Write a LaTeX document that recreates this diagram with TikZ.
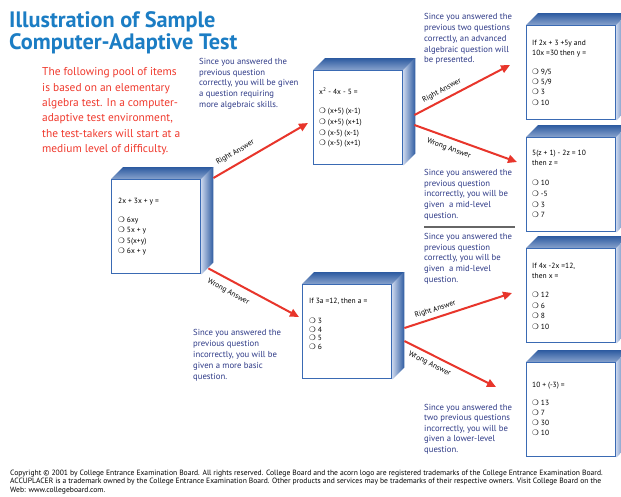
\documentclass[tikz,border=0pt]{standalone}
\usepackage{fontspec}
\setmainfont{PT Sans}
\newfontfamily\dv{DejaVu Sans}
\usetikzlibrary{calc,arrows.meta,backgrounds}
\definecolor{titleblue}{HTML}{1B7DC4}
\definecolor{introred}{HTML}{F03A2E}
\definecolor{navy}{HTML}{2E3A87}
\definecolor{arrowred}{HTML}{E8352B}
\definecolor{boxblue}{HTML}{3A6AB3}
\definecolor{depthdark}{HTML}{2C5AA0}
\definecolor{depthlight}{HTML}{C5D2EA}
\newcommand\opt{{\dv\char"274D}\ }
\newcommand\boxdepth[1]{%
  \shade[top color=depthdark, bottom color=depthlight!60!depthdark] (#1.north west) -- ($(#1.north west)+(12,-12)$) -- ($(#1.north east)+(12,-12)$) -- (#1.north east) -- cycle;
  \shade[left color=depthlight, right color=depthdark] (#1.north east) -- ($(#1.north east)+(12,-12)$) -- ($(#1.south east)+(12,-12)$) -- (#1.south east) -- cycle;}
\begin{document}
\begin{tikzpicture}[x=1pt,y=-1pt,
  qbox/.style={draw=boxblue, line width=1.4pt, fill=white, minimum width=89pt, minimum height=94pt, anchor=north west, inner sep=0pt},
  qtext/.style={anchor=north west, inner sep=0pt, align=left, font=\fontsize{7.5}{10.5}\selectfont},
  note/.style={anchor=north west, inner sep=0pt, align=left, text=navy, font=\fontsize{8.7}{10.7}\selectfont},
  arr/.style={draw=arrowred, line width=2pt, -{Triangle[length=9pt,width=8pt]}},
  lab/.style={font=\fontsize{7.5}{8}\selectfont, sloped, inner sep=1pt}
]
\useasboundingbox (0,0) rectangle (621,496);

% title and intro
\node[anchor=north west, inner sep=0pt, align=left, text=titleblue, font=\fontsize{22.3}{17.5}\selectfont\bfseries] (title) at (9,11.5) {Illustration of Sample\\Computer-Adaptive Test};
\node[anchor=north west, inner sep=0pt, align=left, text=introred, font=\fontsize{11.4}{15.4}\selectfont] (intro) at (42,67.5) {The following pool of items\\is based on an elementary\\algebra test. In a computer-\\adaptive test environment,\\the test-takers will start at a\\medium level of difficulty.};

% boxes
\node[qbox] (b1) at (111,179) {};
\node[qbox] (b2) at (313,70) {};
\node[qbox] (b3) at (526,25) {};
\node[qbox] (b4) at (526,137) {};
\node[qbox] (b5) at (526,248) {};
\node[qbox] (b6) at (526,362) {};
\node[qbox] (ba) at (302,284) {};

\begin{scope}[on background layer]
\fill[white] (0,0) rectangle (621,496);
\foreach \b in {b1,b2,b3,b4,b5,b6,ba} {\boxdepth{\b}}
\end{scope}

% box contents
\node[qtext] (q1) at (118,197.5) {2x + 3x + y =\\[8.7pt]\opt 6xy\\\opt 5x + y\\\opt 5(x+y)\\\opt 6x + y};
\node[qtext, font=\fontsize{7.5}{10.8}\selectfont] (q2) at (319,87.5) {x\textsuperscript{2} - 4x - 5 =\\[8.2pt]\opt (x+5) (x-1)\\\opt (x+5) (x+1)\\\opt (x-5) (x-1)\\\opt (x-5) (x+1)};
\node[qtext, font=\fontsize{7.5}{10.3}\selectfont] (q3) at (532,39.5) {If 2x + 3 +5y and\\10x =30 then y =\\[8.7pt]\opt 9/5\\\opt 5/9\\\opt 3\\\opt 10};
\node[qtext, font=\fontsize{7.5}{10.7}\selectfont] (q4) at (532,149.5) {5(z + 1) - 2z = 10\\then z =\\[9.3pt]\opt 10\\\opt -5\\\opt 3\\\opt 7};
\node[qtext, font=\fontsize{7.5}{10.6}\selectfont] (q5) at (532,262.5) {If 4x -2x =12,\\then x =\\[8.4pt]\opt 12\\\opt 6\\\opt 8\\\opt 10};
\node[qtext, font=\fontsize{7.5}{10.3}\selectfont] (q6) at (532,381.5) {10 + (-3) =\\[7.7pt]\opt 13\\\opt 7\\\opt 30\\\opt 10};
\node[qtext, font=\fontsize{7.5}{8.7}\selectfont] (qa) at (309,298) {If 3a =12, then a =\\[11.3pt]\opt 3\\\opt 4\\\opt 5\\\opt 6};

% explanatory notes
\node[note] (n1) at (199,58) {Since you answered the\\previous question\\correctly, you will be given\\a question requiring\\more algebraic skills.};
\node[note, font=\fontsize{8.7}{10.9}\selectfont] (n2) at (424,13) {Since you answered the\\previous two questions\\correctly, an advanced\\algebraic question will\\be presented.};
\node[note] (n3) at (424,169) {Since you answered the\\previous question\\incorrectly, you will be\\given~ a mid-level\\question.};
\draw[gray!80!black, line width=1.5pt] (424,227) -- (515,227);
\node[note] (n4) at (424,233) {Since you answered the\\previous question\\correctly, you will be\\given~ a mid-level\\question.};
\node[note, font=\fontsize{8.7}{11}\selectfont] (n5) at (193,329) {Since you answered the\\previous question\\incorrectly, you will be\\given a more basic\\question.};
\node[note, font=\fontsize{8.7}{10.5}\selectfont] (n6) at (424,404) {Since you answered the\\two previous questions\\incorrectly, you will be\\given a lower-level\\question.};

% arrows
\draw[arr] ($(b1.north east)+(12,-1)$) -- node[lab, above=5.5pt, pos=0.29] (l1) {Right Answer} ($(b2.north west)+(-5,53)$);
\draw[arr] ($(b1.south east)+(7,-6)$) -- node[lab, below=6pt, pos=0.28] (l2) {Wrong Answer} ($(ba.north west)+(-3,33)$);
\draw[arr] ($(b2.north east)+(11,45)$) -- node[lab, above=3.3pt, pos=0.33] (l3) {Right Answer} ($(b3.north west)+(-16,40)$);
\draw[arr] ($(b2.north east)+(11,55)$) -- node[lab, below=5pt, pos=0.37] (l4) {Wrong Answer} ($(b4.north west)+(-9,25)$);
\draw[arr] ($(ba.north east)+(12,44)$) -- node[lab, above=2.5pt, pos=0.31] (l5) {Right Answer} ($(b5.north west)+(-14,45)$);
\draw[arr] ($(ba.north east)+(12,57)$) -- node[lab, below=3.8pt, pos=0.32] (l6) {Wrong Answer} ($(b6.north west)+(-30,25)$);

% footer
\node[anchor=north west, inner sep=0pt, align=left, font=\fontsize{7.6}{8.6}\selectfont] (foot) at (10,469.5) {Copyright \textcopyright{} 2001 by College Entrance Examination Board. All rights reserved. College Board and the acorn logo are registered trademarks of the College Entrance Examination Board.\\ACCUPLACER is a trademark owned by the College Entrance Examination Board. Other products and services may be trademarks of their respective owners. Visit College Board on the\\Web: www.collegeboard.com.};
\end{tikzpicture}
\end{document}
